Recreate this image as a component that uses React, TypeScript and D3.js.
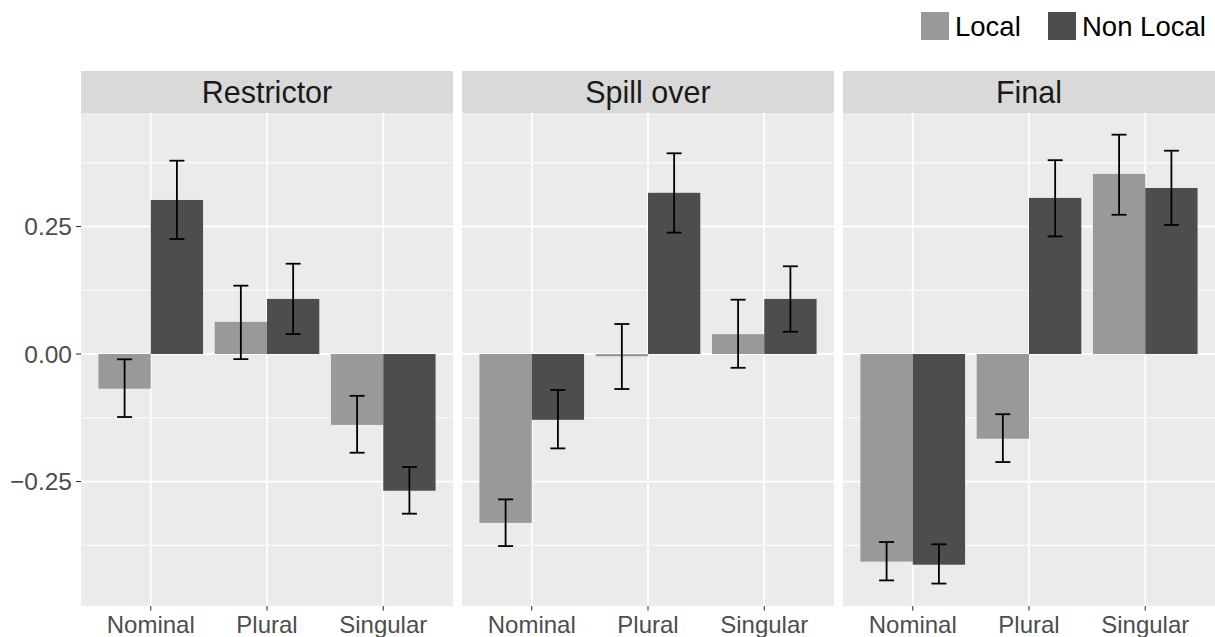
import React, { useEffect, useRef } from "react";
import * as d3 from "d3";

// regions (facets), conditions (x), series (fill)
const regions = ["Restrictor", "Spill over", "Final"];
const conditions = ["Nominal", "Plural", "Singular"];
const series = ["Local", "Non Local"];
const seriesColors = ["#999999", "#4D4D4D"];

// means per region, in order of conditions
const localMean = [
  [-0.068, 0.063, -0.139],
  [-0.331, -0.0045, 0.039],
  [-0.407, -0.166, 0.353],
];
const localLow = [
  [-0.1235, -0.01, -0.1935],
  [-0.3765, -0.0686, -0.027],
  [-0.4438, -0.2118, 0.273],
];
const localHigh = [
  [-0.0104, 0.134, -0.082],
  [-0.285, 0.0588, 0.1065],
  [-0.3686, -0.118, 0.43],
];
const nonLocalMean = [
  [0.302, 0.108, -0.268],
  [-0.129, 0.316, 0.108],
  [-0.413, 0.306, 0.3255],
];
const nonLocalLow = [
  [0.2255, 0.039, -0.313],
  [-0.185, 0.238, 0.0437],
  [-0.45, 0.2306, 0.253],
];
const nonLocalHigh = [
  [0.379, 0.177, -0.2216],
  [-0.0706, 0.3935, 0.172],
  [-0.373, 0.38, 0.3986],
];

const yTicks = [-0.25, 0, 0.25];
const yMinor = [-0.375, -0.125, 0.125, 0.375];
const yDomain = [-0.494, 0.4725];

const W = 1215;
const H = 637;
const FONT = "'Liberation Sans', Arial, Helvetica, sans-serif";

function App() {
  const el = useRef<SVGSVGElement | null>(null);

  useEffect(() => {
    const svg = d3.select(el.current);
    svg.selectAll("*").remove();

    const panelTop = 113;
    const panelBottom = 606;
    const stripTop = 71;
    const panelLeft = 81;
    const panelW = 372;
    const gap = 9;

    const y = d3.scaleLinear().domain(yDomain).range([panelBottom, panelTop]);

    const x = d3
      .scaleBand()
      .domain(conditions)
      .range([0, panelW])
      .paddingInner(0.1)
      .paddingOuter(0.15);
    const xs = d3.scaleBand().domain(series).range([0, x.bandwidth()]);

    regions.forEach((region, ri) => {
      const g = svg
        .append("g")
        .attr("transform", `translate(${panelLeft + ri * (panelW + gap)},0)`);

      // strip
      g.append("rect")
        .attr("x", 0)
        .attr("y", stripTop)
        .attr("width", panelW)
        .attr("height", panelTop - stripTop)
        .attr("fill", "#D9D9D9");
      g.append("text")
        .attr("x", panelW / 2)
        .attr("y", (stripTop + panelTop) / 2)
        .attr("dy", "0.35em")
        .attr("text-anchor", "middle")
        .attr("font-family", FONT)
        .attr("font-size", 30.5)
        .attr("fill", "#1A1A1A")
        .text(region);

      // panel background
      g.append("rect")
        .attr("x", 0)
        .attr("y", panelTop)
        .attr("width", panelW)
        .attr("height", panelBottom - panelTop)
        .attr("fill", "#EBEBEB");

      g.selectAll(".minor")
        .data(yMinor)
        .join("line")
        .attr("x1", 0)
        .attr("x2", panelW)
        .attr("y1", (d) => y(d))
        .attr("y2", (d) => y(d))
        .attr("stroke", "#fff")
        .attr("stroke-width", 0.9);
      g.selectAll(".major")
        .data(yTicks)
        .join("line")
        .attr("x1", 0)
        .attr("x2", panelW)
        .attr("y1", (d) => y(d))
        .attr("y2", (d) => y(d))
        .attr("stroke", "#fff")
        .attr("stroke-width", 1.8);
      g.selectAll(".vgrid")
        .data(conditions)
        .join("line")
        .attr("x1", (d) => x(d)! + x.bandwidth() / 2)
        .attr("x2", (d) => x(d)! + x.bandwidth() / 2)
        .attr("y1", panelTop)
        .attr("y2", panelBottom)
        .attr("stroke", "#fff")
        .attr("stroke-width", 1.8);

      const rows = conditions.flatMap((c, ci) => [
        { c, s: series[0], mean: localMean[ri][ci], lo: localLow[ri][ci], hi: localHigh[ri][ci], col: seriesColors[0] },
        { c, s: series[1], mean: nonLocalMean[ri][ci], lo: nonLocalLow[ri][ci], hi: nonLocalHigh[ri][ci], col: seriesColors[1] },
      ]);

      g.selectAll(".bar")
        .data(rows)
        .join("rect")
        .attr("x", (d) => x(d.c)! + xs(d.s)!)
        .attr("width", xs.bandwidth())
        .attr("y", (d) => y(Math.max(0, d.mean)))
        .attr("height", (d) => Math.abs(y(d.mean) - y(0)))
        .attr("fill", (d) => d.col);

      const cap = 7.5;
      const eb = g
        .selectAll(".err")
        .data(rows)
        .join("g")
        .attr("transform", (d) => `translate(${x(d.c)! + xs(d.s)! + xs.bandwidth() / 2},0)`)
        .attr("stroke", "#000")
        .attr("stroke-width", 1.8);
      eb.append("line")
        .attr("y1", (d) => y(d.lo))
        .attr("y2", (d) => y(d.hi));
      eb.append("line")
        .attr("x1", -cap)
        .attr("x2", cap)
        .attr("y1", (d) => y(d.lo))
        .attr("y2", (d) => y(d.lo));
      eb.append("line")
        .attr("x1", -cap)
        .attr("x2", cap)
        .attr("y1", (d) => y(d.hi))
        .attr("y2", (d) => y(d.hi));

      // x axis
      g.selectAll(".xtick")
        .data(conditions)
        .join("line")
        .attr("x1", (d) => x(d)! + x.bandwidth() / 2)
        .attr("x2", (d) => x(d)! + x.bandwidth() / 2)
        .attr("y1", panelBottom)
        .attr("y2", panelBottom + 4.5)
        .attr("stroke", "#333333")
        .attr("stroke-width", 1.1);
      g.selectAll(".xlab")
        .data(conditions)
        .join("text")
        .attr("x", (d) => x(d)! + x.bandwidth() / 2)
        .attr("y", 633)
        .attr("text-anchor", "middle")
        .attr("font-family", FONT)
        .attr("font-size", 24)
        .attr("fill", "#4D4D4D")
        .text((d) => d);
    });

    // y axis
    const ya = svg.append("g");
    ya.selectAll("line")
      .data(yTicks)
      .join("line")
      .attr("x1", panelLeft - 5)
      .attr("x2", panelLeft)
      .attr("y1", (d) => y(d))
      .attr("y2", (d) => y(d))
      .attr("stroke", "#333333")
      .attr("stroke-width", 1.1);
    ya.selectAll("text")
      .data(yTicks)
      .join("text")
      .attr("x", panelLeft - 9)
      .attr("y", (d) => y(d))
      .attr("dy", "0.35em")
      .attr("text-anchor", "end")
      .attr("font-family", FONT)
      .attr("font-size", 24.5)
      .attr("fill", "#4D4D4D")
      .text((d) => (d < 0 ? "\u2212" + d3.format(".2f")(-d) : d3.format(".2f")(d)));

    // legend
    const legendX = [921, 1048];
    const lg = svg
      .selectAll(".leg")
      .data(series)
      .join("g")
      .attr("transform", (d, i) => `translate(${legendX[i]},12)`);
    lg.append("rect")
      .attr("width", 28)
      .attr("height", 28)
      .attr("fill", (d, i) => seriesColors[i]);
    lg.append("text")
      .attr("x", 34)
      .attr("y", 14)
      .attr("dy", "0.35em")
      .attr("font-family", FONT)
      .attr("font-size", 27.5)
      .attr("fill", "#000")
      .text((d) => d);
  }, []);

  return (
    <div style={{ position: "absolute", left: 0, top: 0 }}>
      <svg ref={el} width={W} height={H} style={{ display: "block" }} />
    </div>
  );
}

export default App;
